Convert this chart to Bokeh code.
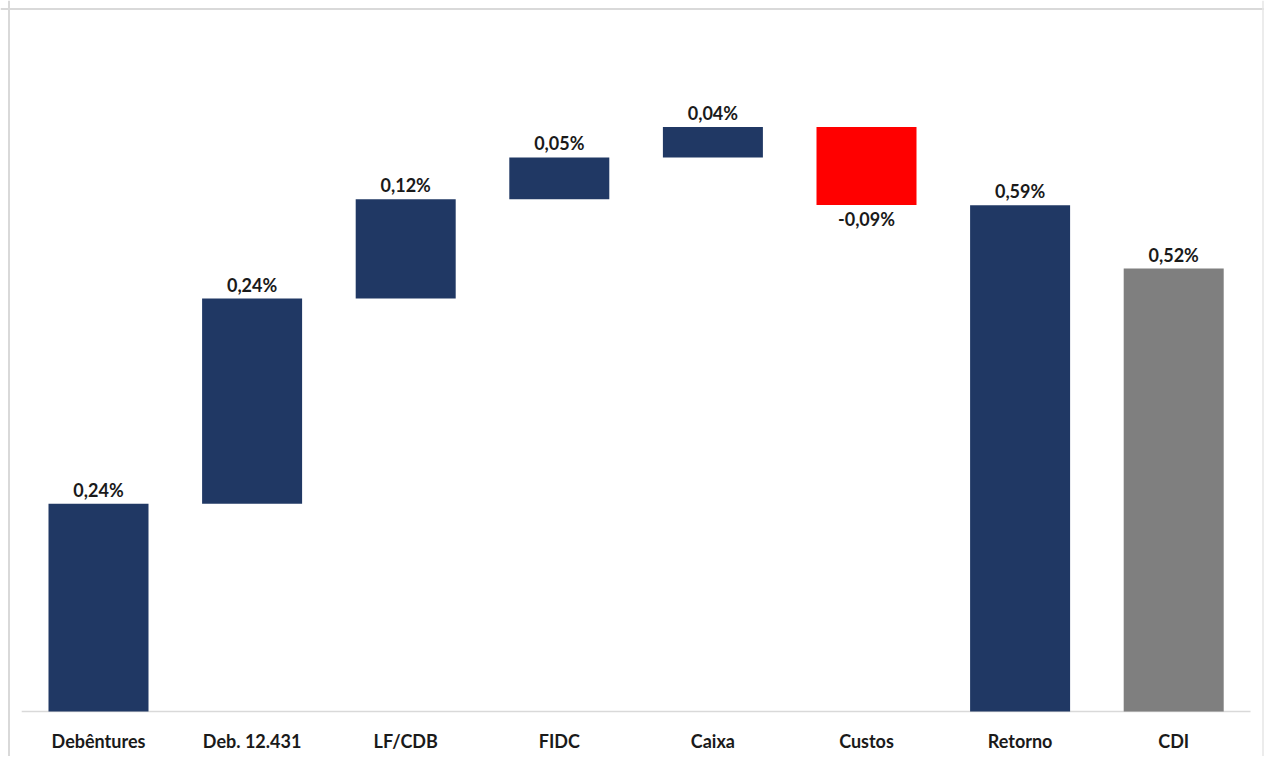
from bokeh.plotting import figure
from bokeh.models import ColumnDataSource, Range1d, Span
from bokeh.core.properties import value
from bokeh.embed import file_html
from bokeh.resources import INLINE

# ---- data ----
categories = ["Debêntures", "Deb. 12.431", "LF/CDB", "FIDC", "Caixa", "Custos", "Retorno", "CDI"]
steps = [0.243, 0.240, 0.116, 0.049, 0.0355, -0.091]   # waterfall contributions (%)
retorno = 0.592                                         # total return (%)
cdi = 0.518                                             # benchmark (%)
value_labels = ["0,24%", "0,24%", "0,12%", "0,05%", "0,04%", "-0,09%", "0,59%", "0,52%"]

NAVY = "#203864"
RED = "#FF0000"
GRAY = "#7F7F7F"
FONT = value("Lato")

# ---- build waterfall geometry from data ----
xs, bottoms, tops, colors = [], [], [], []
cum = 0.0
for i, s in enumerate(steps):
    start = cum
    cum += s
    xs.append(i)
    bottoms.append(min(start, cum))
    tops.append(max(start, cum))
    colors.append(RED if s < 0 else NAVY)
xs += [6, 7]
bottoms += [0.0, 0.0]
tops += [retorno, cdi]
colors += [NAVY, GRAY]

vals = steps + [retorno, cdi]
lab_y = [t if v >= 0 else b for v, t, b in zip(vals, tops, bottoms)]
lab_off = [-14 if v >= 0 else 14 for v in vals]

bars = ColumnDataSource(dict(x=xs, bottom=bottoms, top=tops, color=colors))
labs = ColumnDataSource(dict(x=xs, y=lab_y, text=value_labels, off=lab_off))
cats = ColumnDataSource(dict(x=list(range(len(categories))), y=[0.0] * len(categories), text=categories))

# ---- figure ----
W, H = 1264, 756
PX_PER_CAT = 153.6
PX_PER_PCT = 855.0
Y0_PX = 711.0
xmin = -98.0 / PX_PER_CAT
xmax = xmin + W / PX_PER_CAT
ymax = Y0_PX / PX_PER_PCT
ymin = -(H - Y0_PX) / PX_PER_PCT

p = figure(width=W, height=H, output_backend="svg", toolbar_location=None,
           x_range=Range1d(xmin, xmax), y_range=Range1d(ymin, ymax),
           x_axis_type=None, y_axis_type=None, min_border=0,
           outline_line_color=None, background_fill_color="white",
           border_fill_color="white")
p.xgrid.visible = False
p.ygrid.visible = False

# border (left, top, right)
p.add_layout(Span(location=xmin + 8.5 / PX_PER_CAT, dimension="height", line_color="#D9D9D9", line_width=2))
p.add_layout(Span(location=ymax - 8.5 / PX_PER_PCT, dimension="width", line_color="#D9D9D9", line_width=2))
p.add_layout(Span(location=xmin + 1262.5 / PX_PER_CAT, dimension="height", line_color="#E6E6E6", line_width=1.5))

# baseline axis line
p.segment(x0=[-0.5], y0=[0], x1=[len(categories) - 0.5], y1=[0], line_color="#D9D9D9", line_width=1.5)

p.vbar(x="x", bottom="bottom", top="top", width=100 / PX_PER_CAT, fill_color="color",
       line_color=None, source=bars)

p.text(x="x", y="y", text="text", y_offset="off", source=labs, text_font=FONT,
       text_font_style="bold", text_font_size="18px", text_color="#1A1A1A",
       text_align="center", text_baseline="middle")

p.text(x="x", y="y", text="text", y_offset=29, source=cats, text_font=FONT,
       text_font_style="bold", text_font_size="18px", text_color="#1A1A1A",
       text_align="center", text_baseline="middle")

open("out.html", "w").write(file_html(p, INLINE))
